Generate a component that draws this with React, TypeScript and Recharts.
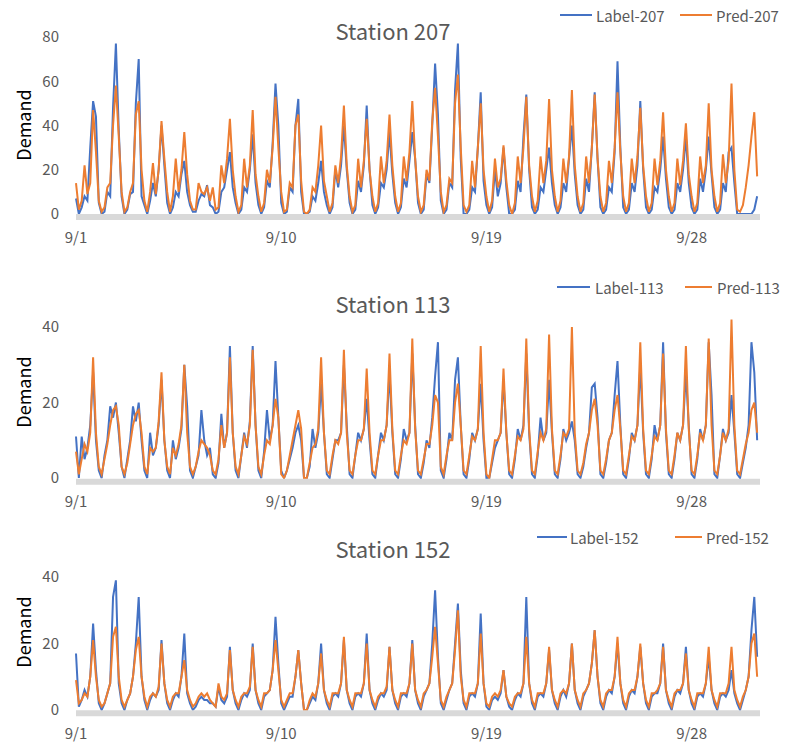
import React from "react";
import { LineChart, Line, XAxis, YAxis } from "recharts";

// samples per day (hour of day), 9/1 .. 9/30
const hours = [0, 3, 6, 9, 12, 15, 18, 21];
const dateTicks = ["9/1", "9/10", "9/19", "9/28"];

// Station 207
const label207 = [
  [7, 0, 3, 8, 6, 30, 51, 44], [5, 0, 1, 10, 8, 48, 77, 38], [8, 0, 2, 9, 10, 50, 70, 8],
  [4, 0, 6, 14, 8, 20, 40, 22], [5, 0, 3, 10, 8, 18, 24, 10], [4, 1, 1, 6, 9, 8, 13, 4],
  [3, 0, 1, 10, 12, 20, 28, 12], [5, 0, 2, 12, 10, 20, 36, 14], [4, 0, 3, 15, 12, 32, 59, 40],
  [5, 0, 1, 12, 10, 40, 52, 10], [0, 0, 1, 8, 6, 14, 24, 10], [4, 0, 3, 20, 12, 22, 40, 20],
  [5, 0, 2, 15, 10, 22, 49, 20], [4, 0, 3, 14, 12, 20, 37, 18], [5, 0, 3, 16, 12, 24, 37, 25],
  [5, 0, 2, 18, 14, 40, 68, 45], [6, 0, 2, 14, 12, 56, 77, 25], [0, 0, 2, 12, 10, 30, 55, 15],
  [4, 0, 3, 20, 8, 14, 30, 12], [0, 0, 2, 15, 10, 35, 54, 20], [3, 0, 2, 12, 10, 20, 30, 14],
  [4, 0, 3, 14, 10, 25, 40, 18], [4, 0, 2, 16, 10, 30, 55, 25], [3, 0, 2, 12, 10, 28, 69, 30],
  [3, 0, 2, 14, 10, 22, 51, 20], [3, 0, 2, 12, 10, 20, 35, 16], [3, 0, 2, 14, 10, 20, 35, 14],
  [3, 0, 2, 16, 10, 20, 35, 18], [3, 0, 2, 14, 10, 28, 30, 14], [0, 0, 0, 0, 0, 0, 2, 8],
];
const pred207 = [
  [14, 2, 6, 22, 9, 14, 47, 28], [6, 1, 3, 12, 14, 40, 58, 35], [10, 1, 3, 10, 14, 45, 51, 20],
  [6, 1, 10, 23, 9, 20, 42, 25], [10, 1, 8, 25, 10, 20, 37, 18], [6, 2, 2, 14, 10, 9, 12, 6],
  [12, 2, 3, 22, 14, 25, 43, 20], [8, 1, 4, 25, 12, 22, 47, 18], [8, 1, 5, 20, 14, 30, 53, 30],
  [10, 1, 2, 14, 12, 40, 45, 15], [1, 0, 2, 12, 10, 22, 40, 15], [8, 1, 5, 22, 14, 26, 49, 22],
  [8, 1, 4, 25, 12, 24, 43, 20], [8, 1, 5, 26, 14, 24, 45, 22], [8, 1, 5, 26, 15, 28, 51, 25],
  [8, 1, 4, 20, 15, 42, 57, 35], [10, 1, 4, 16, 14, 50, 63, 30], [4, 1, 4, 24, 12, 30, 50, 20],
  [8, 1, 6, 25, 12, 16, 31, 15], [4, 0, 5, 26, 14, 30, 53, 22], [8, 1, 6, 26, 14, 24, 52, 20],
  [8, 1, 6, 25, 14, 26, 56, 22], [8, 1, 5, 26, 14, 30, 54, 25], [8, 1, 5, 24, 14, 30, 55, 28],
  [8, 1, 5, 25, 14, 26, 48, 22], [8, 1, 5, 25, 13, 24, 46, 20], [8, 1, 5, 25, 13, 24, 41, 18],
  [8, 1, 5, 26, 14, 22, 50, 20], [8, 1, 5, 27, 14, 24, 59, 20], [2, 1, 4, 12, 22, 35, 46, 17],
];

// Station 113
const label113 = [
  [11, 0, 11, 5, 8, 14, 28, 10], [2, 0, 6, 10, 19, 16, 20, 12], [3, 0, 5, 10, 19, 15, 20, 10],
  [2, 0, 12, 6, 8, 14, 26, 10], [2, 0, 10, 5, 8, 13, 30, 19], [2, 0, 3, 6, 18, 10, 6, 8],
  [1, 0, 4, 17, 8, 12, 35, 12], [2, 0, 6, 12, 8, 15, 35, 14], [2, 0, 7, 18, 10, 14, 31, 16],
  [2, 0, 2, 5, 8, 12, 14, 10], [0, 0, 3, 13, 8, 12, 25, 12], [1, 0, 5, 10, 10, 12, 30, 14],
  [1, 0, 6, 12, 10, 13, 21, 10], [1, 0, 6, 12, 10, 14, 28, 12], [1, 0, 5, 13, 10, 12, 33, 14],
  [1, 0, 4, 10, 8, 16, 27, 36], [2, 0, 5, 12, 10, 26, 32, 14], [1, 0, 5, 12, 10, 13, 25, 10],
  [0, 0, 4, 8, 10, 12, 26, 12], [1, 0, 5, 13, 10, 14, 33, 12], [1, 0, 6, 16, 10, 12, 26, 12],
  [1, 0, 5, 13, 10, 12, 15, 10], [1, 0, 3, 8, 12, 24, 25, 16], [1, 0, 4, 10, 12, 22, 31, 14],
  [1, 0, 5, 12, 10, 14, 30, 12], [1, 0, 5, 14, 10, 14, 36, 12], [1, 0, 5, 12, 10, 14, 28, 14],
  [1, 0, 5, 13, 10, 14, 36, 22], [1, 0, 6, 13, 10, 12, 22, 12], [1, 0, 4, 8, 14, 36, 28, 10],
];
const pred113 = [
  [7, 1, 5, 9, 7, 12, 32, 12], [3, 1, 5, 9, 14, 18, 19, 14], [3, 1, 4, 9, 14, 17, 18, 12],
  [3, 1, 8, 7, 8, 15, 28, 10], [3, 1, 8, 6, 9, 14, 30, 12], [3, 1, 3, 7, 10, 9, 8, 6],
  [2, 1, 5, 14, 8, 12, 32, 12], [3, 1, 6, 11, 9, 14, 34, 14], [3, 1, 6, 10, 9, 14, 21, 16],
  [1, 0, 2, 6, 10, 14, 18, 13], [0, 0, 4, 8, 9, 13, 32, 12], [2, 1, 6, 10, 9, 12, 34, 12],
  [2, 1, 6, 10, 10, 13, 29, 12], [2, 1, 6, 10, 10, 14, 33, 13], [2, 1, 6, 10, 9, 12, 37, 13],
  [2, 1, 5, 9, 9, 14, 22, 20], [3, 1, 6, 10, 10, 20, 25, 14], [2, 1, 6, 11, 10, 13, 35, 12],
  [1, 0, 5, 10, 10, 12, 29, 12], [2, 1, 6, 11, 10, 13, 37, 13], [2, 1, 7, 12, 10, 13, 38, 13],
  [2, 1, 6, 12, 11, 13, 40, 12], [2, 1, 4, 9, 12, 18, 21, 14], [2, 1, 5, 10, 12, 18, 22, 13],
  [2, 1, 6, 11, 10, 14, 36, 13], [2, 1, 6, 11, 10, 14, 33, 13], [2, 1, 6, 12, 10, 14, 35, 13],
  [2, 1, 6, 12, 10, 14, 37, 14], [2, 1, 6, 12, 10, 13, 42, 14], [2, 1, 5, 9, 12, 18, 20, 12],
];

// Station 152
const label152 = [
  [17, 1, 3, 6, 4, 10, 26, 12], [2, 0, 2, 5, 8, 34, 39, 8], [2, 0, 3, 5, 10, 20, 34, 10],
  [3, 0, 3, 5, 4, 6, 21, 8], [2, 0, 3, 5, 4, 10, 23, 5], [2, 0, 1, 3, 4, 3, 3, 2],
  [2, 1, 7, 3, 2, 4, 19, 6], [2, 0, 3, 5, 4, 6, 20, 6], [2, 0, 4, 5, 6, 12, 28, 14],
  [2, 0, 2, 4, 4, 10, 18, 8], [0, 0, 2, 4, 3, 8, 20, 6], [2, 0, 4, 5, 4, 8, 21, 6],
  [2, 0, 4, 5, 4, 8, 23, 6], [2, 0, 3, 5, 4, 6, 19, 6], [2, 0, 4, 5, 4, 8, 21, 6],
  [2, 0, 4, 6, 8, 20, 36, 16], [2, 0, 3, 6, 8, 20, 32, 12], [2, 0, 4, 5, 4, 8, 29, 8],
  [1, 0, 3, 4, 3, 5, 12, 4], [1, 0, 3, 5, 4, 8, 34, 8], [2, 0, 4, 5, 4, 8, 18, 6],
  [2, 0, 4, 6, 4, 8, 20, 6], [2, 0, 4, 6, 8, 14, 24, 10], [2, 0, 4, 6, 5, 10, 20, 8],
  [2, 0, 4, 6, 5, 10, 19, 8], [2, 0, 4, 5, 5, 8, 20, 6], [2, 0, 4, 6, 5, 8, 19, 6],
  [2, 0, 4, 5, 4, 8, 16, 6], [2, 0, 4, 5, 4, 6, 12, 5], [2, 0, 3, 6, 10, 24, 34, 16],
];
const pred152 = [
  [9, 2, 3, 5, 4, 10, 21, 10], [3, 1, 2, 5, 8, 22, 25, 10], [3, 1, 3, 5, 10, 18, 22, 10],
  [4, 1, 4, 5, 4, 7, 20, 8], [3, 1, 4, 5, 5, 10, 15, 6], [3, 1, 2, 4, 5, 4, 5, 3],
  [2, 1, 8, 4, 3, 5, 18, 6], [3, 1, 4, 5, 5, 7, 19, 6], [3, 1, 5, 5, 6, 12, 21, 12],
  [3, 1, 3, 5, 5, 10, 18, 8], [0, 0, 3, 5, 4, 8, 17, 6], [3, 1, 5, 5, 5, 8, 22, 6],
  [3, 1, 5, 5, 5, 8, 20, 6], [3, 1, 4, 5, 5, 7, 19, 6], [3, 1, 5, 5, 5, 8, 20, 6],
  [3, 1, 5, 6, 8, 16, 25, 14], [3, 1, 4, 6, 8, 18, 30, 10], [3, 1, 5, 5, 5, 8, 23, 8],
  [2, 1, 4, 5, 4, 6, 12, 4], [2, 1, 4, 5, 5, 8, 22, 8], [3, 1, 5, 5, 5, 8, 19, 6],
  [3, 1, 5, 6, 5, 8, 20, 6], [3, 1, 5, 6, 8, 14, 24, 10], [3, 1, 5, 6, 6, 10, 22, 8],
  [3, 1, 5, 6, 6, 10, 20, 8], [3, 1, 5, 5, 6, 8, 19, 6], [3, 1, 5, 6, 6, 8, 17, 6],
  [3, 1, 5, 5, 5, 8, 19, 6], [3, 1, 5, 5, 5, 8, 19, 6], [3, 1, 4, 6, 10, 20, 23, 10],
];

const BLUE = "#4472C4";
const ORANGE = "#ED7D31";
const TEXT = "#595959";
const FONT = '"Noto Sans CJK KR", "Noto Sans", sans-serif';
const X_AXIS_H = 28;

function buildRows(label: number[][], pred: number[][]) {
  const rows: { i: number; label: number; pred: number }[] = [];
  label.forEach((day, d) =>
    day.forEach((v, h) => rows.push({ i: d * hours.length + h, label: v, pred: pred[d][h] }))
  );
  return rows;
}

const tickIndex = (t: string) => (Number(t.split("/")[1]) - 1) * hours.length;
const tickText = (v: number) => dateTicks.find((t) => tickIndex(t) === v) ?? "";

type PanelProps = {
  station: string;
  label: number[][];
  pred: number[][];
  top: number;
  height: number;
  plotTop: number;
  plotBottom: number;
  yDomain: [number, number];
  yTicks: number[];
  titleY: number;
  demandY: number;
  legendY: number;
  legendX: [number, number, number, number, number, number];
};

function Panel(p: PanelProps) {
  const data = buildRows(p.label, p.pred);
  const margin = { top: p.plotTop, right: 26, bottom: p.height - p.plotBottom - X_AXIS_H, left: 16 };
  const [b1, b2, bt, o1, o2, ot] = p.legendX;
  const ly = p.legendY - p.top;
  const textStyle: React.CSSProperties = {
    position: "absolute",
    whiteSpace: "nowrap",
    lineHeight: 1,
    fontFamily: FONT,
    color: TEXT,
  };
  return (
    <div style={{ position: "absolute", left: 0, top: p.top, width: 786, height: p.height }}>
      <LineChart width={786} height={p.height} data={data} margin={margin}>
        <XAxis
          type="number"
          dataKey="i"
          domain={[0, 240]}
          ticks={dateTicks.map(tickIndex)}
          tickFormatter={tickText}
          interval={0}
          height={X_AXIS_H}
          axisLine={{ stroke: "#d9d9d9", strokeWidth: 6 }}
          tickLine={false}
          tickSize={6}
          tickMargin={9}
          tick={{ fill: TEXT, fontSize: 15, fontFamily: FONT }}
        />
        <YAxis
          width={60}
          domain={p.yDomain}
          ticks={p.yTicks}
          allowDataOverflow
          axisLine={false}
          tickLine={false}
          tickMargin={11}
          tick={{ fill: TEXT, fontSize: 15, fontFamily: FONT }}
        />
        <Line type="linear" dataKey="label" stroke={BLUE} strokeWidth={2} dot={false} isAnimationActive={false} />
        <Line type="linear" dataKey="pred" stroke={ORANGE} strokeWidth={2} dot={false} isAnimationActive={false} />
      </LineChart>
      <div style={{ ...textStyle, left: 0, width: 786, textAlign: "center", top: p.titleY - p.top, transform: "translateY(-50%)", fontSize: 22 }}>
        Station {p.station}
      </div>
      <div style={{ ...textStyle, left: 23, top: p.demandY - p.top, transform: "translate(-50%, -50%) rotate(-90deg)", fontSize: 18, color: "#000" }}>
        Demand
      </div>
      <div style={{ position: "absolute", left: b1, top: ly - 1, width: b2 - b1, height: 2, background: BLUE }} />
      <div style={{ ...textStyle, left: bt, top: ly, transform: "translateY(-50%)", fontSize: 15 }}>Label-{p.station}</div>
      <div style={{ position: "absolute", left: o1, top: ly - 1, width: o2 - o1, height: 2, background: ORANGE }} />
      <div style={{ ...textStyle, left: ot, top: ly, transform: "translateY(-50%)", fontSize: 15 }}>Pred-{p.station}</div>
    </div>
  );
}

export default function App() {
  return (
    <div style={{ position: "absolute", left: 0, top: 0, width: 786, height: 742, overflow: "hidden", background: "#fff" }}>
      <Panel
        station="207" label={label207} pred={pred207}
        top={0} height={250} plotTop={37} plotBottom={217.1}
        yDomain={[-1.4, 80]} yTicks={[0, 20, 40, 60, 80]}
        titleY={30} demandY={125} legendY={15} legendX={[560, 592, 596, 680, 712, 716]}
      />
      <Panel
        station="113" label={label113} pred={pred113}
        top={265} height={250} plotTop={47} plotBottom={216.8}
        yDomain={[-1, 44]} yTicks={[0, 20, 40]}
        titleY={303} demandY={392} legendY={287} legendX={[557, 590, 595, 685, 712, 717]}
      />
      <Panel
        station="152" label={label152} pred={pred152}
        top={530} height={212} plotTop={47} plotBottom={183.3}
        yDomain={[-1, 40]} yTicks={[0, 20, 40]}
        titleY={548} demandY={632} legendY={537} legendX={[537, 567, 570, 675, 702, 706]}
      />
    </div>
  );
}
